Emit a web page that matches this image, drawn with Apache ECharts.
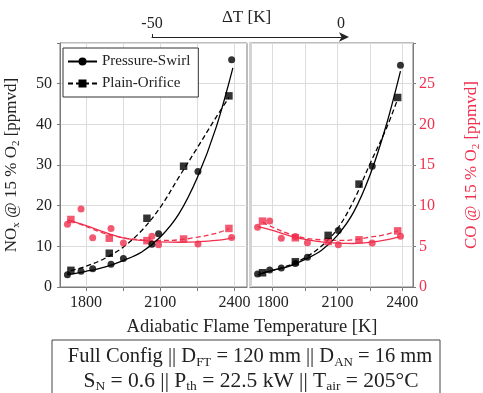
<!DOCTYPE html>
<html><head><meta charset="utf-8">
<script src="https://cdn.jsdelivr.net/npm/echarts@6/dist/echarts.min.js"></script>
<style>html,body{margin:0;padding:0;background:#fff}#c{width:483px;height:393px}</style>
</head><body><div id="c"></div>
<script>
// ---- Data (left panel) ----
const psT_L   = [1725, 1780, 1827, 1901, 1951, 2066, 2093, 2252, 2388];
const psNOx_L = [3.0, 3.9, 4.5, 5.6, 7.0, 10.5, 13.1, 28.4, 55.9];
const psCO_L  = [7.7, 9.6, 6.05, 7.2, 5.4, 6.25, 5.2, 5.3, 6.1];
const poT_L   = [1739, 1894, 2046, 2194, 2377];
const poNOx_L = [4.1, 8.3, 16.9, 29.7, 47.0];
const poCO_L  = [8.3, 6.0, 5.7, 5.9, 7.2];
const fitPsT_L   = [1725, 1800, 1875, 1950, 2025, 2100, 2175, 2250, 2325, 2393];
const fitPsNOx_L = [3.0, 3.85, 4.9, 6.5, 8.6, 12.3, 18.0, 27.0, 39.2, 53.9];
const fitPsCO_L  = [8.26, 7.56, 6.74, 6.05, 5.72, 5.56, 5.5, 5.56, 5.72, 6.05];
const fitPoT_L   = [1739, 1800, 1875, 1950, 2025, 2100, 2175, 2250, 2325, 2377];
const fitPoNOx_L = [4.0, 5.1, 7.0, 9.8, 13.9, 19.6, 27.0, 34.3, 41.7, 46.6];
const fitPoCO_L  = [8.17, 7.44, 6.6, 6.05, 5.8, 5.72, 5.8, 6.13, 6.6, 7.15];
// ---- Data (right panel) ----
const psT_R   = [1730, 1786, 1840, 1905, 1961, 2104, 2261, 2392];
const psNOx_R = [3.2, 4.2, 4.7, 5.8, 7.3, 13.9, 29.7, 54.5];
const psCO_R  = [7.35, 8.1, 6.0, 6.2, 5.45, 5.2, 5.4, 6.25];
const poT_R   = [1753, 1905, 2057, 2200, 2379];
const poNOx_R = [3.5, 6.2, 12.7, 25.3, 46.6];
const poCO_R  = [8.1, 6.05, 5.6, 5.8, 6.9];
const fitPsT_R   = [1730, 1800, 1875, 1950, 2025, 2100, 2175, 2250, 2325, 2392];
const fitPsNOx_R = [3.0, 4.1, 5.1, 6.8, 9.0, 12.7, 18.4, 27.4, 39.6, 53.1];
const fitPsCO_R  = [7.44, 6.95, 6.33, 5.85, 5.56, 5.4, 5.35, 5.5, 5.8, 6.2];
const fitPoT_R   = [1753, 1800, 1875, 1950, 2025, 2100, 2175, 2250, 2325, 2379];
const fitPoNOx_R = [3.5, 4.1, 5.3, 7.2, 10.0, 14.3, 21.2, 30.2, 38.8, 46.2];
const fitPoCO_R  = [7.97, 7.35, 6.54, 6.0, 5.8, 5.72, 5.8, 6.13, 6.45, 6.9];
// ---- Axis ticks ----
const tTicks = [1800, 1950, 2100, 2250, 2400];
const tLabels = [1800, 2100, 2400];
const dT = [-50, 0];
const seriesNames = ['Pressure-Swirl', 'Plain-Orifice'];

const FONT = 'Liberation Serif';
const RED = '#f0304e';
const FRAME = '#7a7a7a';
const zip = (a, b) => a.map((v, i) => [v, b[i]]);

function xAx(gi) {
  return {
    type: 'value', gridIndex: gi, min: 1695, max: 2450,
    axisLine: { show: true, onZero: false, lineStyle: { color: FRAME } },
    axisTick: { show: true, customValues: tTicks, length: 4, lineStyle: { color: FRAME } },
    axisLabel: { customValues: tLabels, fontFamily: FONT, fontSize: 16, color: '#222', margin: 8,
      formatter: v => String(v) },
    splitLine: { show: true, lineStyle: { color: '#dcdcdc' } }
  };
}
function sc(name, data, xi, yi, sym, color) {
  return { name, type: 'scatter', xAxisIndex: xi, yAxisIndex: yi, data, symbol: sym,
    symbolSize: sym === 'circle' ? 7 : 7.5, itemStyle: { color }, z: 5 };
}
function fit(name, data, xi, yi, color, dashed, sym) {
  return { name, type: 'line', xAxisIndex: xi, yAxisIndex: yi, data, smooth: 0.35,
    symbol: sym || 'none', symbolSize: 8, showSymbol: false,
    itemStyle: { color },
    lineStyle: { color, width: 1.3, type: dashed ? [5, 3] : 'solid' }, z: 3 };
}

const option = {
  animation: false,
  backgroundColor: '#fff',
  grid: [
    { left: 60, top: 43, width: 187, height: 244, show: true, borderColor: FRAME, borderWidth: 1 },
    { left: 250, top: 43, width: 187, height: 244, show: true, borderColor: FRAME, borderWidth: 1 },
    { left: 152, top: 37, width: 189, height: 20 }
  ],
  xAxis: [
    xAx(0), xAx(1),
    { type: 'value', gridIndex: 2, position: 'top', min: dT[0], max: dT[1], interval: 50,
      axisLine: { show: true, onZero: false, symbol: ['none', 'arrow'], symbolSize: [7, 10], symbolOffset: [0, 8], lineStyle: { color: '#222' } },
      axisTick: { show: true, customValues: [-50], length: 3, lineStyle: { color: '#222' } },
      axisLabel: { fontFamily: FONT, fontSize: 16, color: '#222', margin: 5 },
      splitLine: { show: false },
      name: 'ΔT [K]', nameLocation: 'middle', nameGap: 11, nameMoveOverlap: false,
      nameTextStyle: { fontFamily: FONT, fontSize: 17, color: '#222' } }
  ],
  yAxis: [
    { type: 'value', gridIndex: 0, min: 0, max: 60, interval: 10, position: 'left',
      axisLine: { show: true, lineStyle: { color: FRAME } },
      axisTick: { show: true, length: 3, lineStyle: { color: FRAME } },
      axisLabel: { fontFamily: FONT, fontSize: 16, color: '#222', margin: 8,
        formatter: v => v === 60 ? '' : String(v) },
      splitLine: { show: true, lineStyle: { color: '#dcdcdc' } },
      name: '{a|NO}{s|x}{a| @ 15 % O}{s|2}{a| [ppmvd]}', nameLocation: 'middle', nameGap: 38, nameRotate: 90,
      nameMoveOverlap: false,
      nameTextStyle: { rich: {
        a: { fontFamily: FONT, fontSize: 17, color: '#222', lineHeight: 20, verticalAlign: 'middle' },
        s: { fontFamily: FONT, fontSize: 11, color: '#222', lineHeight: 12, verticalAlign: 'bottom' } } } },
    { type: 'value', gridIndex: 0, min: 0, max: 30, interval: 5, show: false, position: 'right' },
    { type: 'value', gridIndex: 1, min: 0, max: 60, interval: 10, position: 'left',
      axisLine: { show: true, lineStyle: { color: '#d4d4d4', width: 3 } },
      axisTick: { show: false }, axisLabel: { show: false },
      splitLine: { show: true, lineStyle: { color: '#dcdcdc' } } },
    { type: 'value', gridIndex: 1, min: 0, max: 30, interval: 5, position: 'right',
      axisLine: { show: true, lineStyle: { color: FRAME } },
      axisTick: { show: true, length: 3, lineStyle: { color: FRAME } },
      axisLabel: { fontFamily: FONT, fontSize: 16, color: RED, margin: 6,
        formatter: v => v === 30 ? '' : String(v) },
      splitLine: { show: false },
      name: '{a|CO @ 15 % O}{s|2}{a| [ppmvd]}', nameLocation: 'middle', nameGap: 49, nameRotate: 90,
      nameMoveOverlap: false,
      nameTextStyle: { rich: {
        a: { fontFamily: FONT, fontSize: 17, color: RED, lineHeight: 20, verticalAlign: 'middle' },
        s: { fontFamily: FONT, fontSize: 11, color: RED, lineHeight: 12, verticalAlign: 'bottom' } } } },
    { type: 'value', gridIndex: 2, min: 0, max: 1, show: false }
  ],
  legend: {
    data: seriesNames, orient: 'vertical', left: 63, top: 48,
    padding: [6, 8, 6, 4], itemGap: 7, itemWidth: 29, itemHeight: 10,
    backgroundColor: '#fff', borderColor: '#333', borderWidth: 1, borderRadius: 0,
    textStyle: { fontFamily: FONT, fontSize: 15, color: '#222' }
  },
  series: [
    // left panel
    fit('coPsL', zip(fitPsT_L, fitPsCO_L), 0, 1, RED, false),
    fit('coPoL', zip(fitPoT_L, fitPoCO_L), 0, 1, RED, true),
    sc('coPsLpts', zip(psT_L, psCO_L), 0, 1, 'circle', RED),
    sc('coPoLpts', zip(poT_L, poCO_L), 0, 1, 'rect', RED),
    fit(seriesNames[0], zip(fitPsT_L, fitPsNOx_L), 0, 0, '#000', false, 'circle'),
    fit(seriesNames[1], zip(fitPoT_L, fitPoNOx_L), 0, 0, '#000', true, 'rect'),
    sc('noPsLpts', zip(psT_L, psNOx_L), 0, 0, 'circle', '#000'),
    sc('noPoLpts', zip(poT_L, poNOx_L), 0, 0, 'rect', '#000'),
    // right panel
    fit('coPsR', zip(fitPsT_R, fitPsCO_R), 1, 3, RED, false),
    fit('coPoR', zip(fitPoT_R, fitPoCO_R), 1, 3, RED, true),
    sc('coPsRpts', zip(psT_R, psCO_R), 1, 3, 'circle', RED),
    sc('coPoRpts', zip(poT_R, poCO_R), 1, 3, 'rect', RED),
    fit('noPsR', zip(fitPsT_R, fitPsNOx_R), 1, 2, '#000', false),
    fit('noPoR', zip(fitPoT_R, fitPoNOx_R), 1, 2, '#000', true),
    sc('noPsRpts', zip(psT_R, psNOx_R), 1, 2, 'circle', '#000'),
    sc('noPoRpts', zip(poT_R, poNOx_R), 1, 2, 'rect', '#000')
  ],
  graphic: [
    { type: 'text', x: 252, y: 327,
      style: { text: 'Adiabatic Flame Temperature [K]', font: '18.5px "Liberation Serif"', fill: '#222',
        align: 'center', verticalAlign: 'middle' } },
    { type: 'rect', shape: { x: 52, y: 340, width: 388, height: 70 },
      style: { fill: '#fff', stroke: '#444', lineWidth: 1 } },
    { type: 'text', x: 250, y: 357,
      style: { text: '{a|Full Config || D}{s|FT}{a| = 120 mm || D}{s|AN}{a| = 16 mm}',
        align: 'center', verticalAlign: 'middle',
        rich: { a: { fontFamily: FONT, fontSize: 20.5, fill: '#222', lineHeight: 24, verticalAlign: 'middle' },
                s: { fontFamily: FONT, fontSize: 13, fill: '#222', lineHeight: 13, verticalAlign: 'bottom' } } } },
    { type: 'text', x: 251, y: 381,
      style: { text: '{a|S}{s|N}{a| = 0.6 || P}{s|th}{a| = 22.5 kW || T}{s|air}{a| = 205°C}',
        align: 'center', verticalAlign: 'middle',
        rich: { a: { fontFamily: FONT, fontSize: 21.5, fill: '#222', lineHeight: 24, verticalAlign: 'middle' },
                s: { fontFamily: FONT, fontSize: 13.5, fill: '#222', lineHeight: 13, verticalAlign: 'bottom' } } } }
  ]
};
const chart = echarts.init(document.getElementById('c'), null, { renderer: 'canvas' });
chart.setOption(option);
</script></body></html>
